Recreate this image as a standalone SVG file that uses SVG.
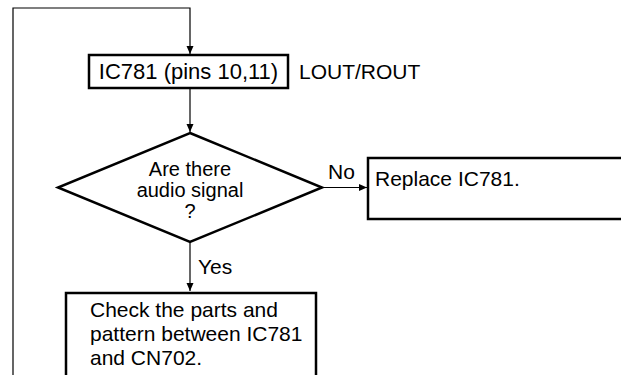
<svg xmlns="http://www.w3.org/2000/svg" width="621" height="375" viewBox="0 0 621 375">
<style>
text{font-family:"Liberation Sans",Arial,sans-serif;font-size:21px;fill:#000}
.box{fill:#fff;stroke:#000;stroke-width:2.5}
.ln{fill:none;stroke:#000;stroke-width:1.2}
.mid{text-anchor:middle}
.dt{font-size:20px}
</style>
<defs>
<marker id="ah" markerWidth="8" markerHeight="10" refX="8" refY="5" orient="auto" markerUnits="userSpaceOnUse">
<path d="M0,1.5 L8,5 L0,8.5 Z" fill="#000"/>
</marker>
</defs>
<rect width="621" height="375" fill="#fff"/>
<g id="connectors">
<path class="ln" d="M13,375 V8 H190 V54" marker-end="url(#ah)"/>
<path class="ln" d="M190,88 V132" marker-end="url(#ah)"/>
<path class="ln" d="M322,187.5 H367" marker-end="url(#ah)"/>
<path class="ln" d="M190,242 V291" marker-end="url(#ah)"/>
<text x="328" y="179">No</text>
<text x="198" y="274">Yes</text>
</g>
<g id="n1">
<rect class="box" x="89" y="55" width="199" height="33"/>
<text class="mid" x="188.5" y="79" style="font-size:22px">IC781 (pins 10,11)</text>
</g>
<g id="n1label">
<text x="299" y="79">LOUT/ROUT</text>
</g>
<g id="d1">
<polygon class="box" points="190,133 322,187.5 190,242 58,187.5"/>
<text class="mid dt" x="190" y="176">Are there</text>
<text class="mid dt" x="190" y="197">audio signal</text>
<text class="mid dt" x="190" y="218">?</text>
</g>
<g id="n2">
<rect class="box" x="368" y="158" width="270" height="61"/>
<text x="375" y="186">Replace IC781.</text>
</g>
<g id="n3">
<rect class="box" x="66" y="293" width="250" height="100"/>
<text x="90" y="317">Check the parts and</text>
<text x="90" y="341">pattern between IC781</text>
<text x="90" y="365">and CN702.</text>
</g>
</svg>
